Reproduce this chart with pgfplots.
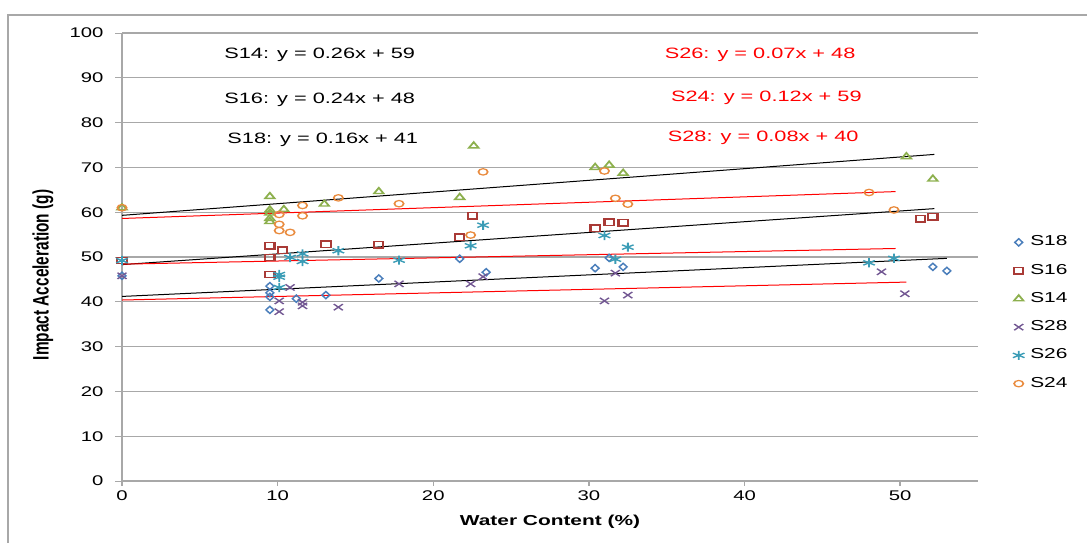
\documentclass[border=0pt]{standalone}
\usepackage{fontspec}
\setmainfont{Liberation Sans}
\usepackage{pgfplots}
\usepackage{pgfplotstable}
\pgfplotsset{compat=1.18}

\definecolor{cS18}{HTML}{4A7EBB}
\definecolor{cS16}{HTML}{A93A36}
\definecolor{cS14}{HTML}{8DB04E}
\definecolor{cS28}{HTML}{735893}
\definecolor{cS26}{HTML}{3A9CB6}
\definecolor{cS24}{HTML}{E98B3E}
\definecolor{gridc}{HTML}{A8A8A8}

% water content (%), impact acceleration (g)
\pgfplotstableread{
x y
0 45.8
9.5 43.5
9.5 42.0
9.5 41.1
9.5 38.2
11.2 40.7
13.1 41.5
16.5 45.2
21.7 49.6
23.4 46.6
30.4 47.5
31.3 49.8
32.2 47.8
52.1 47.8
53.0 46.9
}\sEighteen

\pgfplotstableread{
x y
0 49.2
9.5 52.5
9.5 49.9
9.5 46.1
10.3 51.5
13.1 52.9
16.5 52.7
21.7 54.4
22.5 59.2
30.4 56.4
31.3 57.8
32.2 57.6
51.3 58.5
52.1 59.0
}\sSixteen

\pgfplotstableread{
x y
0 61.0
9.5 63.5
9.5 60.5
9.5 59.8
9.5 58.6
9.5 57.9
10.4 60.6
13.0 61.8
16.5 64.6
21.7 63.3
22.6 74.8
30.4 70.0
31.3 70.5
32.2 68.7
50.4 72.4
52.1 67.4
}\sFourteen

\pgfplotstableread{
x y
0 45.8
10.1 40.2
10.1 37.8
10.8 43.2
11.6 39.9
11.6 39.1
13.9 38.8
17.8 44.0
22.4 44.0
23.2 45.6
31.0 40.2
31.7 46.4
32.5 41.5
48.8 46.7
50.3 41.8
}\sTwentyEight

\pgfplotstableread{
x y
0 49.2
10.1 46.1
10.1 45.5
10.1 43.2
10.8 49.9
11.6 50.7
11.6 49.0
13.9 51.4
17.8 49.3
22.4 52.5
23.2 57.1
31.0 54.8
31.7 49.5
32.5 52.2
48.0 48.7
49.6 49.7
}\sTwentySix

\pgfplotstableread{
x y
0 61.0
10.1 59.5
10.1 57.3
10.1 55.9
10.8 55.5
11.6 61.5
11.6 59.2
13.9 63.2
17.8 61.9
22.4 54.9
23.2 69.0
31.0 69.2
31.7 63.1
32.5 61.8
48.0 64.4
49.6 60.5
}\sTwentyFour

\begin{document}
\begin{tikzpicture}
\useasboundingbox (0,0) rectangle (543.5pt,271.5pt);
\draw[gridc, line width=0.6pt] (4pt,0) -- (4pt,264pt) -- (543.5pt,264pt);
\begin{scope}[transform canvas={xscale=1.45}]
\begin{axis}[
    at={(42.07pt,31pt)}, anchor=south west,
    scale only axis, width=295.17pt, height=224pt,
    xmin=0, xmax=55, ymin=0, ymax=100,
    xtick={0,10,...,50}, ytick={0,10,...,100},
    axis x line*=bottom, axis y line*=left,
    axis line style={gridc, line width=0.6pt, -},
    ymajorgrids, grid style={gridc, line width=0.6pt},
    tick align=outside, major tick length=2.4pt,
    tick style={gridc, line width=0.5pt},
    ticklabel style={font=\fontsize{7}{8}\selectfont, inner sep=0pt},
    yticklabel style={xshift=-3.8pt},
    xticklabel style={yshift=-2.1pt},
    /pgf/number format/assume math mode=true,
    xlabel={Water Content (\%)},
    ylabel={Impact Acceleration (g)},
    xlabel style={font=\bfseries\fontsize{7.2}{8}\selectfont, at={(axis description cs:0.5,-0.092)}, anchor=center},
    ylabel style={font=\bfseries\fontsize{7.7}{8}\selectfont, at={(axis description cs:-0.0923,0.46)}, anchor=center},
    legend style={draw=none, fill=none, at={(1.03,0.375)}, anchor=west, font=\fontsize{7.2}{8}\selectfont, row sep=3.6pt},
    legend cell align=left,
]
\addplot[only marks, color=cS18, mark=diamond, mark size=1.8pt, mark options={line width=0.6pt}] table {\sEighteen};
\addplot[only marks, color=cS16, mark=square, mark size=1.6pt, mark options={line width=0.7pt}] table {\sSixteen};
\addplot[only marks, color=cS14, mark=triangle, mark size=1.9pt, mark options={line width=0.7pt}] table {\sFourteen};
\addplot[only marks, color=cS28, mark=x, mark size=2.2pt, mark options={line width=0.6pt}] table {\sTwentyEight};
\addplot[only marks, color=cS26, mark=asterisk, mark size=2.3pt, mark options={line width=0.65pt}] table {\sTwentySix};
\addplot[only marks, color=cS24, mark=o, mark size=1.6pt, mark options={line width=0.6pt}] table {\sTwentyFour};
\legend{S18, S16, S14, S28, S26, S24}

% linear trendlines
\addplot[forget plot, black, line width=0.5pt] coordinates {(0,59.3) (52.2,72.9)};
\addplot[forget plot, black, line width=0.5pt] coordinates {(0,48.3) (52.2,60.8)};
\addplot[forget plot, black, line width=0.5pt] coordinates {(0,41.2) (53.0,49.7)};
\addplot[forget plot, red, line width=0.5pt] coordinates {(0,58.6) (49.7,64.6)};
\addplot[forget plot, red, line width=0.5pt] coordinates {(0,48.4) (49.7,51.9)};
\addplot[forget plot, red, line width=0.5pt] coordinates {(0,40.4) (50.4,44.4)};

\node[font=\fontsize{7.5}{9}\selectfont] at (axis cs:12.7,95.1) {S14: y = 0.26x + 59};
\node[font=\fontsize{7.5}{9}\selectfont] at (axis cs:12.7,85.0) {S16: y = 0.24x + 48};
\node[font=\fontsize{7.5}{9}\selectfont] at (axis cs:12.9,76.1) {S18: y = 0.16x + 41};
\node[font=\fontsize{7.5}{9}\selectfont, red] at (axis cs:41.0,95.1) {S26: y = 0.07x + 48};
\node[font=\fontsize{7.5}{9}\selectfont, red] at (axis cs:41.4,85.5) {S24: y = 0.12x + 59};
\node[font=\fontsize{7.5}{9}\selectfont, red] at (axis cs:41.2,76.6) {S28: y = 0.08x + 40};
\end{axis}
\end{scope}
\end{tikzpicture}
\end{document}
